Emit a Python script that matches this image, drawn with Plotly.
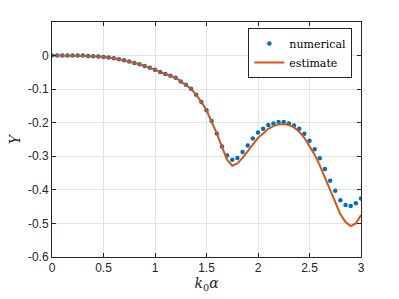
import plotly.graph_objects as go

x_vals = [round(i * 0.05, 2) for i in range(61)]

numerical = [0, 0, 0, 0, 0, 0, 0, -0.001, -0.002, -0.003,
             -0.004, -0.006, -0.008, -0.011, -0.014, -0.018, -0.022, -0.026, -0.031, -0.036,
             -0.042, -0.049, -0.055, -0.060, -0.066, -0.077, -0.087, -0.099, -0.117, -0.138,
             -0.163, -0.195, -0.232, -0.271, -0.298, -0.310, -0.305, -0.287, -0.268, -0.247,
             -0.229, -0.218, -0.207, -0.202, -0.198, -0.198, -0.202, -0.208, -0.218, -0.233,
             -0.254, -0.279, -0.306, -0.338, -0.373, -0.403, -0.431, -0.445, -0.448, -0.440,
             -0.426]

estimate = [0, 0, 0, 0, 0, 0, 0, -0.001, -0.002, -0.003,
            -0.004, -0.006, -0.008, -0.011, -0.014, -0.018, -0.022, -0.026, -0.031, -0.036,
            -0.042, -0.049, -0.055, -0.060, -0.066, -0.077, -0.087, -0.099, -0.117, -0.138,
            -0.163, -0.195, -0.232, -0.272, -0.310, -0.328, -0.321, -0.305, -0.285, -0.265,
            -0.245, -0.232, -0.218, -0.210, -0.205, -0.204, -0.207, -0.214, -0.227, -0.245,
            -0.268, -0.295, -0.327, -0.364, -0.401, -0.438, -0.473, -0.496, -0.508, -0.500,
            -0.475]

x_ticks = [0, 0.5, 1, 1.5, 2, 2.5, 3]
x_tick_labels = ["0", "0.5", "1", "1.5", "2", "2.5", "3"]
y_ticks = [0, -0.1, -0.2, -0.3, -0.4, -0.5, -0.6]
y_tick_labels = ["0", "-0.1", "-0.2", "-0.3", "-0.4", "-0.5", "-0.6"]

fig = go.Figure()
fig.add_trace(go.Scatter(x=x_vals, y=numerical, mode="markers", name="numerical",
                         marker=dict(color="#0072BD", size=4.5)))
fig.add_trace(go.Scatter(x=x_vals, y=estimate, mode="lines", name="estimate",
                         line=dict(color="#D95319", width=2)))

axis_common = dict(showgrid=True, gridcolor="#e3e3e3", gridwidth=1,
                   showline=True, linecolor="#262626", linewidth=1, mirror="ticks",
                   ticks="inside", ticklen=4, tickcolor="#262626", zeroline=False,
                   automargin=False,
                   tickfont=dict(family="Liberation Sans, Arial", size=12, color="#262626"))

fig.update_layout(
    width=399, height=299,
    margin=dict(l=52, r=38, t=22, b=42),
    paper_bgcolor="white", plot_bgcolor="white",
    showlegend=True,
    legend=dict(x=0.972, y=0.975, xanchor="right", yanchor="top",
                bgcolor="white", bordercolor="#262626", borderwidth=1,
                font=dict(family="DejaVu Serif, Liberation Serif", size=11, color="#000"),
                tracegroupgap=0, itemwidth=30),
    xaxis=dict(range=[0, 3], tickvals=x_ticks, ticktext=x_tick_labels,
               title=dict(text="<i>k</i><sub>0</sub><i>α</i>", standoff=0,
                          font=dict(family="DejaVu Serif, Liberation Serif", size=14, color="#262626")),
               **axis_common),
    yaxis=dict(range=[-0.6, 0.1], tickvals=y_ticks, ticktext=y_tick_labels,
               title=dict(text="<i>Y</i>", standoff=4,
                          font=dict(family="DejaVu Serif, Liberation Serif", size=14, color="#262626")),
               **axis_common),
)

fig.write_html("out.html", config={"displayModeBar": False},
               post_script="document.body.style.margin='0';")
